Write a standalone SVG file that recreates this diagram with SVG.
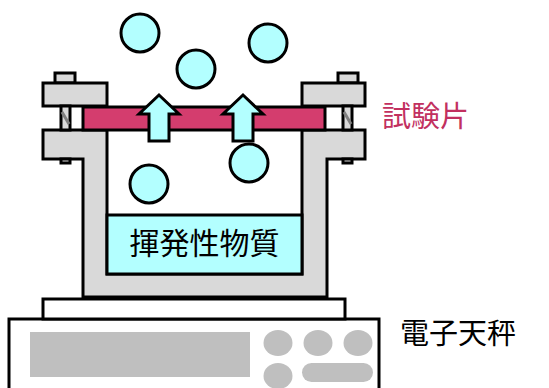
<svg xmlns="http://www.w3.org/2000/svg" width="549" height="388" viewBox="0 0 549 388">
  <defs>
    <style>
      .ln { stroke: #000; stroke-width: 3; stroke-linejoin: miter; }
      .metal { fill: #d9d9d9; }
      .gas { fill: #b3ffff; }
      .key { fill: #bfbfbf; }
      .jp { font-family: "Noto Sans CJK JP", "Noto Sans CJK SC", sans-serif; }
    </style>
  </defs>

  <!-- electronic balance -->
  <g id="balance">
    <rect class="ln" x="9" y="319" width="370" height="80" fill="#fff"/>
    <rect class="ln" x="43" y="299" width="302" height="20" fill="#fff"/>
    <rect class="key" x="30" y="332" width="220" height="45"/>
    <ellipse class="key" cx="278" cy="343" rx="14.5" ry="13"/>
    <ellipse class="key" cx="318" cy="343" rx="14.5" ry="13"/>
    <ellipse class="key" cx="358" cy="343" rx="14.5" ry="13"/>
    <ellipse class="key" cx="278" cy="376" rx="14.5" ry="13"/>
    <rect class="key" x="302" y="363" width="71" height="19" rx="9.5"/>
    <text class="jp" x="400" y="344" font-size="29" fill="#000">電子天秤</text>
  </g>

  <!-- cup body -->
  <g id="cup">
    <path class="ln metal" d="M43,130 H107 V274 H302 V130 H365 V159 H327 V297 H83 V159 H43 Z"/>
    <!-- nuts under flange -->
    <rect class="ln metal" x="61" y="159" width="9" height="4" stroke-width="2"/>
    <rect class="ln metal" x="343" y="159" width="9" height="4" stroke-width="2"/>
  </g>

  <!-- volatile substance -->
  <g id="volatile">
    <rect class="ln gas" x="107" y="215" width="195" height="59"/>
    <text class="jp" x="204.5" y="254" font-size="30" text-anchor="middle" fill="#000">揮発性物質</text>
  </g>

  <!-- clamp blocks and bolts -->
  <g id="clamp-left">
    <rect class="ln metal" x="55" y="73" width="20" height="10"/>
    <rect class="ln metal" x="43" y="83" width="64" height="23"/>
    <rect class="ln metal" x="61" y="106" width="9" height="24" stroke-width="2"/>
    <path d="M62,112 L69,124" stroke="#808080" stroke-width="3"/>
  </g>
  <g id="clamp-right">
    <rect class="ln metal" x="338" y="73" width="20" height="10"/>
    <rect class="ln metal" x="302" y="83" width="63" height="23"/>
    <rect class="ln metal" x="343" y="106" width="9" height="24" stroke-width="2"/>
    <path d="M344,112 L351,124" stroke="#808080" stroke-width="3"/>
  </g>

  <!-- test piece -->
  <g id="specimen">
    <rect class="ln" x="83" y="107" width="242" height="23" fill="#d43d6e"/>
    <text class="jp" x="382" y="127" font-size="29" fill="#c2305f">試験片</text>
  </g>

  <!-- permeation arrows -->
  <g id="arrows">
    <path class="ln gas" d="M159,95 L179,114 L169,114 L169,141 L149,141 L149,114 L139,114 Z"/>
    <path class="ln gas" d="M243,95 L263,114 L253,114 L253,141 L233,141 L233,114 L223,114 Z"/>
  </g>

  <!-- vapour molecules -->
  <g id="molecules">
    <circle class="ln gas" cx="140" cy="33" r="19"/>
    <circle class="ln gas" cx="196" cy="69" r="19"/>
    <circle class="ln gas" cx="268" cy="43" r="19"/>
    <circle class="ln gas" cx="149" cy="184" r="19"/>
    <circle class="ln gas" cx="249" cy="163" r="19"/>
  </g>
</svg>
